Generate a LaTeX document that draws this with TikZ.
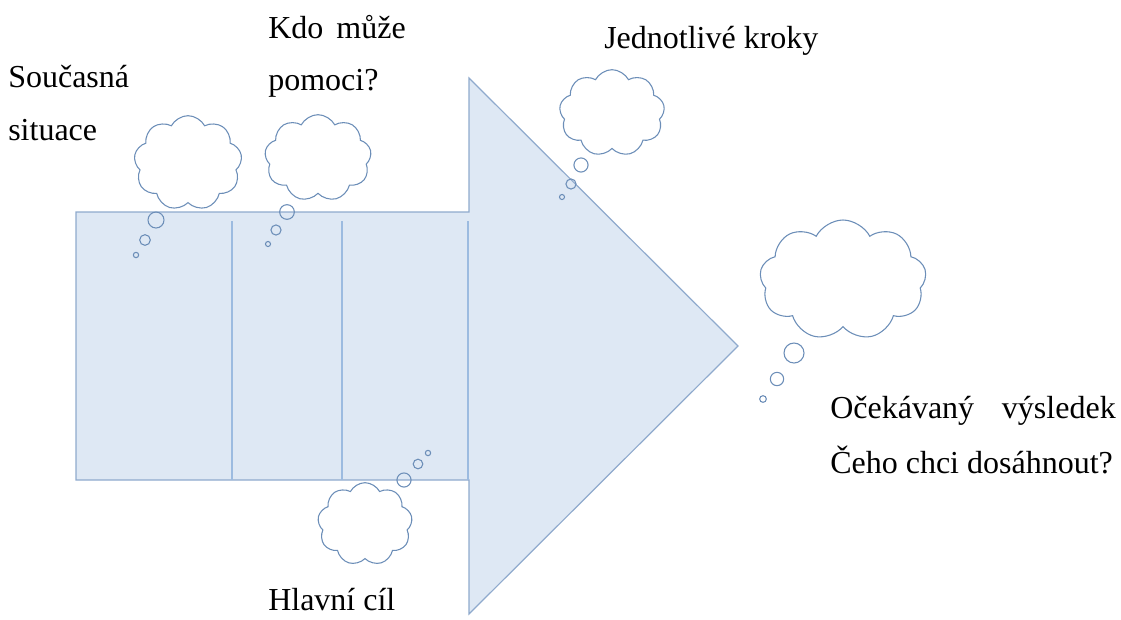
\documentclass[tikz,border=0pt]{standalone}
\usepackage{fontspec}
\setmainfont{Liberation Serif}
\usetikzlibrary{shapes.symbols}
\definecolor{arrowfill}{HTML}{DEE8F4}
\definecolor{arrowline}{HTML}{8FAACD}
\definecolor{cloudline}{HTML}{6C8EB8}
\definecolor{divline}{HTML}{9CBBE0}
\tikzset{
  think/.style={cloud, cloud puffs=9, cloud puff arc=125, cloud ignores aspect, draw=cloudline, fill=white, line width=0.8pt, inner sep=0pt},
  puff/.style={draw=cloudline, line width=0.8pt},
  label/.style={anchor=base west, inner sep=0pt, font=\fontsize{24}{28}\selectfont}
}

\begin{document}
\begin{tikzpicture}[x=0.75pt,y=-0.75pt]
			\useasboundingbox (0,0) rectangle (1121,619);
			\draw[fill=arrowfill,draw=arrowline,line width=0.9pt,line join=miter] (76,212) -- (469,212) -- (469,78) -- (738,346) -- (469,614) -- (469,480) -- (76,480) -- cycle;
			\draw[divline,line width=0.8pt] (232,221) -- (232,480);
			\draw[divline,line width=0.8pt] (342,221) -- (342,480);
			\draw[divline,line width=0.8pt] (468,221) -- (468,480);
			\node[think,minimum width=81pt,minimum height=71pt] (now) at (188,163) {};
			\node[think,minimum width=80pt,minimum height=65pt] (help) at (318,158) {};
			\node[think,minimum width=79pt,minimum height=65pt] (steps) at (612,113) {};
			\node[think,minimum width=125pt,minimum height=90pt] (result) at (843,280) {};
			\node[think,minimum width=71pt,minimum height=62pt] (goal) at (365,524) {};
			\draw[puff] (156,220) circle[radius=6pt];
			\draw[puff] (145,240) circle[radius=4pt];
			\draw[puff] (136,255) circle[radius=2pt];
			\draw[puff] (287,212) circle[radius=5.5pt];
			\draw[puff] (276,230) circle[radius=3.8pt];
			\draw[puff] (268,244) circle[radius=1.9pt];
			\draw[puff] (581,165) circle[radius=5.3pt];
			\draw[puff] (571,184) circle[radius=3.8pt];
			\draw[puff] (562,197) circle[radius=1.9pt];
			\draw[puff] (794,353) circle[radius=7.5pt];
			\draw[puff] (777,379) circle[radius=5pt];
			\draw[puff] (763,399) circle[radius=2.5pt];
			\draw[puff] (404,480) circle[radius=5.3pt];
			\draw[puff] (418,464) circle[radius=3.6pt];
			\draw[puff] (428,453) circle[radius=2pt];
			\node[label] (now1) at (8,87) {Současná};
			\node[label] (now2) at (8,140) {situace};
			\node[label] (help1) at (268,38) {Kdo};
			\node[label,anchor=base east] (help2) at (406,38) {může};
			\node[label] (help3) at (268,90) {pomoci?};
			\node[label] (steps1) at (604,48) {Jednotlivé kroky};
			\node[label] (res1) at (830,418) {Očekávaný};
			\node[label,anchor=base east] (res2) at (1116,418) {výsledek};
			\node[label] (res3) at (830,473) {Čeho chci dosáhnout?};
			\node[label] (goal1) at (268,610) {Hlavní cíl};
		\end{tikzpicture}
\end{document}
